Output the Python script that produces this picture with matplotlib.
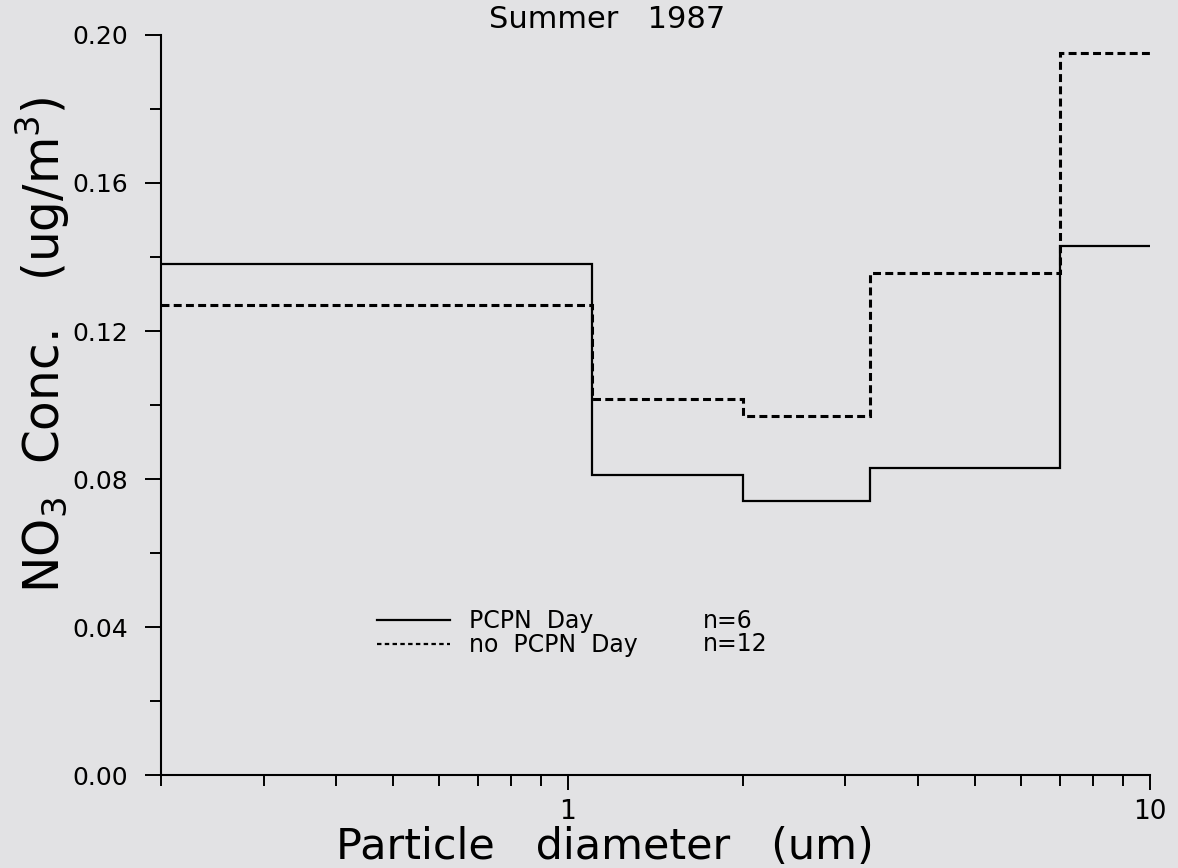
import numpy as np
import matplotlib.pyplot as plt
from matplotlib.lines import Line2D
from matplotlib.ticker import FixedLocator, NullFormatter

# size bin edges (um) and NO3 concentrations (ug/m3)
edges = [0.2, 1.1, 2.0, 3.3, 7.0, 10.0]
pcpn_day = [0.138, 0.081, 0.074, 0.083, 0.143]
no_pcpn_day = [0.127, 0.1015, 0.097, 0.1357, 0.195]

series_names = ["PCPN  Day", "no  PCPN  Day"]
n_labels = ["n=6", "n=12"]

yticks = [0.00, 0.04, 0.08, 0.12, 0.16, 0.20]
xmajor = [1, 10]

bg = "#e2e2e4"
plt.rcParams['font.family'] = ['DejaVu Sans']

fig = plt.figure(figsize=(11.78, 8.68), dpi=100, facecolor=bg)
ax = fig.add_axes([0.1367, 0.1071, 0.976 - 0.1367, 0.9597 - 0.1071])
ax.set_facecolor(bg)

dash = (0, (2.6, 1.4))
ax.stairs(pcpn_day, edges, baseline=None, color='black', lw=1.6)
ax.stairs(no_pcpn_day, edges, baseline=None, color='black', lw=2.2,
          linestyle=dash)

ax.set_xscale('log')
ax.set_xlim(edges[0], edges[-1])
ax.set_ylim(0, 0.20)

ax.xaxis.set_major_locator(FixedLocator(xmajor))
ax.set_xticklabels([str(v) for v in xmajor])
minors = [v for v in np.arange(0.2, 1.0, 0.1)] + list(range(2, 10))
ax.xaxis.set_minor_locator(FixedLocator(minors))
ax.xaxis.set_minor_formatter(NullFormatter())

ax.set_yticks(yticks)
ax.set_yticklabels([f"{v:.2f}" for v in yticks])
ax.yaxis.set_minor_locator(FixedLocator(np.arange(0.02, 0.20, 0.04)))

for s in ['top', 'right']:
    ax.spines[s].set_visible(False)
for s in ['left', 'bottom']:
    ax.spines[s].set_linewidth(1.5)

ax.tick_params(axis='x', which='major', length=11, width=1.4, labelsize=19, pad=6)
ax.tick_params(axis='x', which='minor', length=8, width=1.4)
ax.tick_params(axis='y', which='major', length=11.5, width=1.4, labelsize=18, pad=12)
ax.tick_params(axis='y', which='minor', length=8, width=1.4)

fig.text(605 / 1178, 1 - 859 / 868, "Particle   diameter   (um)", fontsize=31,
         ha='center', va='baseline')
fig.text(43 / 1178, 1 - 345 / 868, r"NO$_3$  Conc.   (ug/m$^3$)", fontsize=35,
         rotation=90, ha='center', va='center')
fig.text(607 / 1178, 1 - 20 / 868, "Summer   1987", fontsize=22,
         ha='center', va='center')

handles = [Line2D([], [], color='black', lw=1.6),
           Line2D([], [], color='black', lw=1.6, linestyle=(0, (2, 1.5)))]
fig.legend(handles, series_names, loc='upper left',
           bbox_to_anchor=(377 / 1178, 1 - 609 / 868), frameon=False,
           fontsize=17, handlelength=3.1, handletextpad=0.8, labelspacing=0.0,
           borderpad=0, borderaxespad=0)
for i, lab in enumerate(n_labels):
    fig.text(703 / 1178, 1 - (621 + 23 * i) / 868, lab, fontsize=17,
             ha='left', va='center')

fig.savefig("out.png", dpi=100, facecolor=bg)
